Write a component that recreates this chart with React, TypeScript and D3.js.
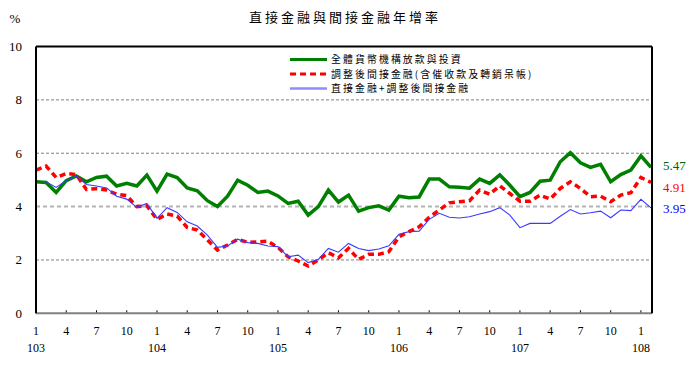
import React from "react";
import * as d3 from "d3";

const title = "直接金融與間接金融年增率";
const years = ["103", "104", "105", "106", "107", "108"];
const monthTicks = ["1", "4", "7", "10"];
const yTicks = [0, 2, 4, 6, 8, 10];

// periods 103/1 .. 108/2
const periods: string[] = [];
years.forEach((y) => {
  for (let m = 1; m <= 12; m++) {
    if (y === "108" && m > 2) break;
    periods.push(`${y}/${m}`);
  }
});

const seriesNames = [
  "全體貨幣機構放款與投資",
  "調整後間接金融(含催收款及轉銷呆帳)",
  "直接金融+調整後間接金融",
];

const loans = [
  4.93, 4.9, 4.53, 4.97, 5.15, 4.93, 5.09, 5.14, 4.77, 4.87, 4.77, 5.18,
  4.58, 5.22, 5.09, 4.7, 4.59, 4.22, 4.0, 4.39, 4.99, 4.8, 4.53, 4.58,
  4.4, 4.12, 4.2, 3.68, 4.0, 4.62, 4.17, 4.43, 3.83, 3.96, 4.03, 3.87,
  4.39, 4.33, 4.36, 5.03, 5.03, 4.74, 4.72, 4.69, 5.03, 4.87, 5.19, 4.8,
  4.37, 4.53, 4.95, 4.99, 5.68, 6.02, 5.64, 5.47, 5.58, 4.93, 5.2, 5.37,
  5.9, 5.47,
];
const indirect = [
  5.37, 5.52, 5.09, 5.24, 5.2, 4.64, 4.67, 4.62, 4.46, 4.41, 4.0, 4.03,
  3.52, 3.72, 3.64, 3.22, 3.12, 2.75, 2.37, 2.56, 2.77, 2.66, 2.68, 2.7,
  2.47, 2.12, 1.96, 1.77, 2.0, 2.27, 2.08, 2.43, 2.02, 2.21, 2.21, 2.31,
  2.87, 3.06, 3.24, 3.6, 3.87, 4.14, 4.18, 4.22, 4.62, 4.46, 4.78, 4.49,
  4.2, 4.2, 4.43, 4.28, 4.68, 4.93, 4.68, 4.37, 4.39, 4.18, 4.43, 4.52,
  5.09, 4.91,
];
const total = [
  4.95, 4.93, 4.72, 4.98, 5.14, 4.83, 4.77, 4.7, 4.39, 4.28, 3.97, 4.12,
  3.56, 3.96, 3.78, 3.43, 3.27, 2.93, 2.47, 2.52, 2.78, 2.65, 2.62, 2.52,
  2.5, 2.12, 2.18, 1.9, 2.02, 2.43, 2.29, 2.62, 2.43, 2.35, 2.41, 2.53,
  2.96, 3.06, 3.08, 3.52, 3.75, 3.6, 3.57, 3.62, 3.72, 3.81, 3.96, 3.68,
  3.21, 3.37, 3.37, 3.37, 3.64, 3.89, 3.72, 3.77, 3.83, 3.58, 3.87, 3.85,
  4.27, 3.95,
];
const endLabels = ["5.47", "4.91", "3.95"];

const W = 692;
const H = 365;
const L = 36;
const R = 652;
const T = 46.5;
const B = 313.3;

const cjk = "'Noto Sans CJK TC', 'Noto Sans CJK SC', sans-serif";
const serif = "'Liberation Serif', 'DejaVu Serif', serif";

export default function App() {
  const x = d3.scalePoint<string>().domain(periods).range([L, 651]);
  const y = d3.scaleLinear().domain([0, 10]).range([B, T]);
  const line = d3
    .line<number>()
    .x((_, i) => x(periods[i]) as number)
    .y((d) => y(d));

  const tickPeriods = periods.filter((p) => monthTicks.includes(p.split("/")[1]));

  const series = [
    { data: loans, color: "#008000", width: 3.5, dash: "none", label: "#006400" },
    { data: indirect, color: "#ff0000", width: 3.5, dash: "6,4", label: "#ff0000" },
    { data: total, color: "#3a3aff", width: 1.1, dash: "none", label: "#0000ff" },
  ];
  const legendColors = ["#008000", "#ff0000", "#8c8cff"];

  return (
    <svg
      width={W}
      height={H}
      style={{ position: "absolute", left: 0, top: 0, background: "#fff" }}
    >
      <text x={345} y={22} textAnchor="middle" fontFamily={cjk} fontSize={13} letterSpacing={3}>
        {title}
      </text>
      <text x={15} y={23} textAnchor="middle" fontFamily={serif} fontSize={13}>
        %
      </text>

      {/* gridlines */}
      {yTicks
        .filter((t) => t > 0 && t < 10)
        .map((t) => (
          <line
            key={t}
            x1={L}
            x2={R}
            y1={y(t)}
            y2={y(t)}
            stroke={t === 4 ? "#b4b4b4" : "#808080"}
            strokeWidth={t === 4 ? 2 : 1}
            strokeDasharray={t === 4 ? "4,3" : "3,2"}
          />
        ))}

      {/* y tick labels */}
      {yTicks.map((t) => (
        <text key={t} x={22} y={y(t) + 4.5} textAnchor="end" fontFamily={serif} fontSize={13}>
          {t}
        </text>
      ))}

      {/* x ticks */}
      {tickPeriods.map((p) => (
        <line key={p} x1={x(p)} x2={x(p)} y1={B} y2={B - 3} stroke="#000" strokeWidth={1} />
      ))}
      {tickPeriods.map((p) => (
        <text key={"m" + p} x={x(p)} y={335} textAnchor="middle" fontFamily={serif} fontSize={12}>
          {p.split("/")[1]}
        </text>
      ))}
      {years.map((yr) => (
        <text key={yr} x={x(`${yr}/1`)} y={352} textAnchor="middle" fontFamily={serif} fontSize={12}>
          {yr}
        </text>
      ))}

      {/* series */}
      {series.map((s, i) => (
        <path
          key={i}
          d={line(s.data) || ""}
          fill="none"
          stroke={s.color}
          strokeWidth={s.width}
          strokeDasharray={s.dash}
          strokeLinejoin="miter"
        />
      ))}

      {/* frame */}
      <line x1={L} x2={R} y1={B} y2={B} stroke="#808080" strokeWidth={2} />
      <line x1={L} x2={R} y1={T} y2={T} stroke="#000" strokeWidth={2} />
      <line x1={L} x2={L} y1={T} y2={B} stroke="#000" strokeWidth={2} />
      <line x1={R} x2={R} y1={T} y2={B} stroke="#000" strokeWidth={2} />

      {/* end labels */}
      {series.map((s, i) => (
        <text
          key={"e" + i}
          x={663}
          y={[170, 192, 213][i]}
          fontFamily={serif}
          fontSize={13}
          fill={s.label}
        >
          {endLabels[i]}
        </text>
      ))}

      {/* legend */}
      {seriesNames.map((n, i) => (
        <g key={n} transform={`translate(290, ${59.5 + i * 14.5})`}>
          <line
            x1={0}
            x2={37}
            y1={0}
            y2={0}
            stroke={legendColors[i]}
            strokeWidth={i === 2 ? 2.5 : 3}
            strokeDasharray={i === 1 ? "6,4" : "none"}
          />
          <text x={41} y={3.8} fontFamily={cjk} fontSize={9.9} letterSpacing={2.1}>
            {n}
          </text>
        </g>
      ))}
    </svg>
  );
}
